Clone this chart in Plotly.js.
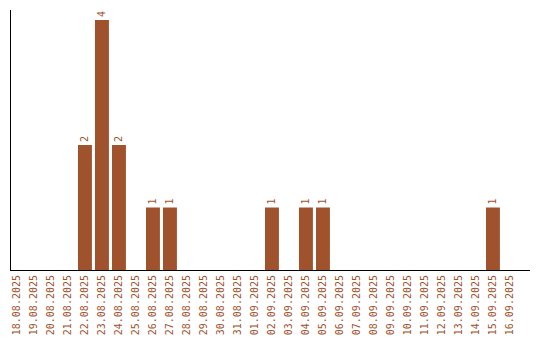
<!DOCTYPE html>
<html><head><meta charset="utf-8">
<script src="https://cdn.plot.ly/plotly-3.0.1.min.js"></script>
<style>html,body{margin:0;padding:0;background:#fff}#c{width:540px;height:340px}</style>
</head><body><div id="c"></div>
<script>
const dates = ["18.08.2025","19.08.2025","20.08.2025","21.08.2025","22.08.2025","23.08.2025","24.08.2025","25.08.2025","26.08.2025","27.08.2025","28.08.2025","29.08.2025","30.08.2025","31.08.2025","01.09.2025","02.09.2025","03.09.2025","04.09.2025","05.09.2025","06.09.2025","07.09.2025","08.09.2025","09.09.2025","10.09.2025","11.09.2025","12.09.2025","13.09.2025","14.09.2025","15.09.2025","16.09.2025"];
const counts = [0,0,0,0,2,4,2,0,1,1,0,0,0,0,0,1,0,1,1,0,0,0,0,0,0,0,0,0,1,0];
const labels = counts.map(v => v > 0 ? String(v) : "");
const col = "#A0522D";
const trace = {
  type: "bar", x: dates, y: counts, text: labels,
  textposition: "outside", textangle: -90, cliponaxis: false,
  textfont: {family: "DejaVu Sans Mono", size: 10, color: col},
  marker: {color: col}, width: 0.82, hoverinfo: "none"
};
const layout = {
  width: 540, height: 340,
  margin: {l: 11, r: 10, t: 10, b: 70},
  paper_bgcolor: "#fff", plot_bgcolor: "#fff",
  showlegend: false,
  xaxis: {type: "category", range: [-0.35, 30.18], showline: true, linecolor: "#000", linewidth: 1,
    ticks: "", tickangle: -90, tickfont: {family: "DejaVu Sans Mono", size: 10, color: col},
    showgrid: false, zeroline: false, fixedrange: true},
  yaxis: {range: [0, 4.16], showline: true, linecolor: "#000", linewidth: 1, showticklabels: false,
    ticks: "", showgrid: false, zeroline: false, fixedrange: true},
  font: {family: "DejaVu Sans Mono", size: 10, color: col}
};
Plotly.newPlot("c", [trace], layout, {displayModeBar: false, staticPlot: true});
</script></body></html>
